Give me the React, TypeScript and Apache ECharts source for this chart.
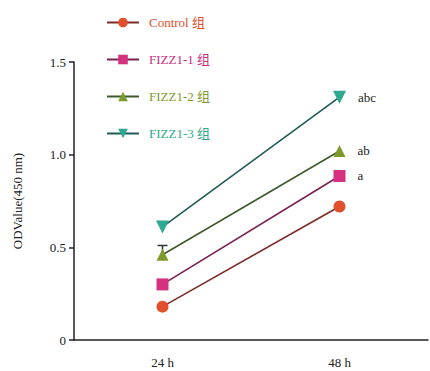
import React, { useEffect, useRef } from "react";
import * as echarts from "echarts";

const categories = ["24 h", "48 h"];
const seriesNames = ["Control 组", "FIZZ1-1 组", "FIZZ1-2 组", "FIZZ1-3 组"];
const controlValues = [0.18, 0.72];
const fizz1Values = [0.3, 0.885];
const fizz2Values = [0.46, 1.02];
const fizz3Values = [0.61, 1.31];
const fizz2ErrorUpper = [0.51, null];
const endLabels = ["", "a", "ab", "abc"];
const yTicks = [0, 0.5, 1.0, 1.5];

const markerColors = ["#e0502c", "#d4327e", "#7e9a2c", "#2ea88e"];
const lineColors = ["#7a2a28", "#7a2050", "#3e5a2a", "#1f5a55"];
const textColors = ["#e0502c", "#cc2f7c", "#7e9a2c", "#2ea88e"];
const symbols = ["circle", "rect", "triangle", "path://M0,0 L10,0 L5,9 Z"];

const FONT = "'Liberation Serif', 'Times New Roman', 'Noto Sans CJK SC', serif";

export default function App() {
  const ref = useRef<HTMLDivElement>(null);
  useEffect(() => {
    const chart = echarts.init(ref.current!, null, { renderer: "svg" });
    const all = [controlValues, fizz1Values, fizz2Values, fizz3Values];
    const series: any[] = all.map((vals, i) => ({
      name: seriesNames[i],
      type: "line",
      data: vals.map((v, j) => ({
        value: v,
        label: {
          show: j === 1 && endLabels[i] !== "",
          formatter: endLabels[i],
          position: "right",
          distance: 12,
          color: "#222",
          fontFamily: FONT,
          fontSize: 13,
        },
      })),
      symbol: symbols[i],
      symbolSize: i === 3 ? 13 : 12,
      showSymbol: true,
      itemStyle: { color: markerColors[i] },
      lineStyle: { color: lineColors[i], width: 1.6 },
      z: 3,
    }));
    series.push({
      type: "custom",
      name: "err",
      data: fizz2Values.map((v, j) => [j, v, fizz2ErrorUpper[j]]).filter((d) => d[2] !== null),
      renderItem: (params: any, api: any) => {
        const c = api.coord([api.value(0), api.value(1)]);
        const t = api.coord([api.value(0), api.value(2)]);
        const style = { stroke: "#333", lineWidth: 1.5 };
        return {
          type: "group",
          children: [
            { type: "line", shape: { x1: c[0], y1: c[1], x2: t[0], y2: t[1] }, style },
            { type: "line", shape: { x1: t[0] - 5, y1: t[1], x2: t[0] + 5, y2: t[1] }, style },
          ],
        };
      },
      z: 2,
      silent: true,
    });
    chart.setOption({
      animation: false,
      backgroundColor: "#fff",
      textStyle: { fontFamily: FONT },
      grid: { left: 74, right: 2, top: 62, bottom: 31 },
      legend: {
        orient: "vertical",
        left: 101,
        top: 11,
        itemWidth: 32,
        itemHeight: 12,
        itemGap: 24,
        data: seriesNames.map((n, i) => ({
          name: n,
          textStyle: { color: textColors[i], fontFamily: FONT, fontSize: 13, padding: [0, 0, 0, 5] },
        })),
      },
      xAxis: {
        type: "category",
        data: categories,
        boundaryGap: true,
        axisLine: { lineStyle: { color: "#222", width: 1.5 } },
        axisTick: { alignWithLabel: true, length: 6, lineStyle: { color: "#222", width: 1.5 } },
        axisLabel: { color: "#222", fontFamily: FONT, fontSize: 13, margin: 16 },
      },
      yAxis: {
        type: "value",
        min: 0,
        max: 1.5,
        interval: 0.5,
        name: "ODValue(450 nm)",
        nameLocation: "middle",
        nameGap: 50,
        nameTextStyle: { color: "#222", fontFamily: FONT, fontSize: 13 },
        axisLine: { show: true, lineStyle: { color: "#222", width: 1.5 } },
        axisTick: { show: true, length: 5, lineStyle: { color: "#222", width: 1.5 } },
        splitLine: { show: false },
        axisLabel: {
          color: "#222",
          fontFamily: FONT,
          fontSize: 13,
          margin: 8,
          formatter: (v: number) => (yTicks.includes(v) ? (v === 0 ? "0" : v.toFixed(1)) : ""),
        },
      },
      series,
    });
    return () => chart.dispose();
  }, []);
  return <div ref={ref} style={{ position: "fixed", left: 0, top: 0, width: 430, height: 371 }} />;
}
